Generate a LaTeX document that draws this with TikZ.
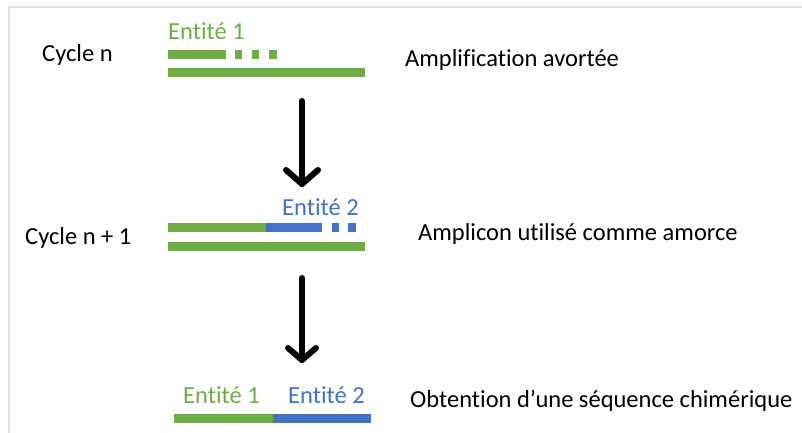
\documentclass[tikz,border=0pt]{standalone}
\usepackage{fontspec}
\setmainfont{Carlito}[RawFeature={-liga}]
\definecolor{gr}{HTML}{70AD47}
\definecolor{bl}{HTML}{4472C4}
\definecolor{frame}{HTML}{E3E3E3}
\begin{document}
\begin{tikzpicture}[x=1pt,y=-1pt,
  lbl/.style={anchor=base west,inner sep=0pt,font=\fontsize{24.5pt}{29pt}\selectfont},
  strand/.style={line width=9pt,line cap=butt},
  dot/.style={inner sep=0pt,minimum width=7.5pt,minimum height=9pt},
  bigarrow/.style={line width=6pt,line cap=round,line join=round}]
\useasboundingbox (0,0) rectangle (802,433);
\fill[white] (0,0) rectangle (802,433);
\draw[frame,line width=1.5pt] (9,433) -- (9,7) -- (802,7);
% left labels
\node[lbl] (cn) at (42,62) {Cycle n};
\node[lbl] (cn1) at (25,244) {Cycle n + 1};
% right labels
\node[lbl] (t1) at (405,67) {Amplification avortée};
\node[lbl] (t2) at (418,240) {Amplicon utilisé comme amorce};
\node[lbl] (t3) at (410,407) {Obtention d’une séquence chimérique};
% entity labels
\node[lbl,text=gr] (e1a) at (168,40) {Entité 1};
\node[lbl,text=bl] (e2a) at (282,215) {Entité 2};
\node[lbl,text=gr] (e1b) at (183,403) {Entité 1};
\node[lbl,text=bl] (e2b) at (288,403) {Entité 2};
% cycle n strands
\draw[strand,gr] (168,54.5) -- (226,54.5);
\node[dot,fill=gr] (d1) at (238.5,54.5) {};
\node[dot,fill=gr] (d2) at (255.5,54.5) {};
\node[dot,fill=gr] (d3) at (273,54.5) {};
\draw[strand,gr] (168,73) -- (365,73);
% cycle n+1 strands
\draw[strand,gr] (168,227.5) -- (266,227.5);
\draw[strand,bl] (266,227.5) -- (322,227.5);
\node[dot,fill=bl] (d4) at (335.5,227.5) {};
\node[dot,fill=bl] (d5) at (352,227.5) {};
\draw[strand,gr] (168,246.5) -- (365,246.5);
% chimeric strand
\draw[strand,gr] (174,418.5) -- (273,418.5);
\draw[strand,bl] (273,418.5) -- (371,418.5);
% arrows
\coordinate (a1s) at (302,101);
\coordinate (a1e) at (302,184);
\coordinate (a2s) at (302,278);
\coordinate (a2e) at (302,360);
\draw[bigarrow] (a1s) -- (a1e);
\draw[bigarrow] (a1e) ++(-16,-14) -- (a1e) -- ++(16,-14);
\draw[bigarrow] (a2s) -- (a2e);
\draw[bigarrow] (a2e) ++(-14,-12) -- (a2e) -- ++(14,-12);
\end{tikzpicture}
\end{document}
